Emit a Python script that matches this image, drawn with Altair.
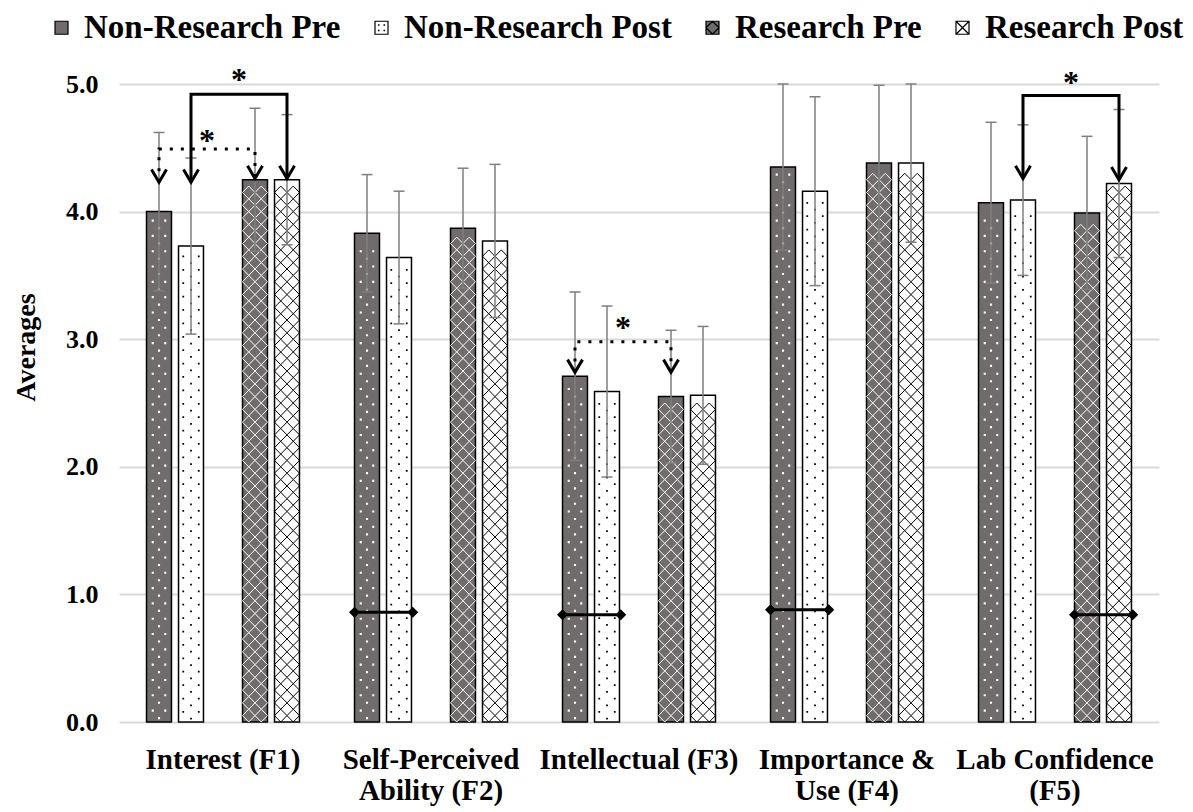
import json
import altair as alt
import pandas as pd

# ---------------- data ----------------
categories = ["Interest (F1)", "Self-Perceived Ability (F2)", "Intellectual (F3)",
              "Importance & Use (F4)", "Lab Confidence (F5)"]
label_lines = [["Interest (F1)"], ["Self-Perceived", "Ability (F2)"], ["Intellectual (F3)"],
               ["Importance &", "Use (F4)"], ["Lab Confidence", "(F5)"]]
series = ["Non-Research Pre", "Non-Research Post", "Research Pre", "Research Post"]

nr_pre = [4.00, 3.83, 2.71, 4.35, 4.07]
nr_post = [3.73, 3.64, 2.59, 4.16, 4.09]
r_pre = [4.25, 3.87, 2.55, 4.38, 3.99]
r_post = [4.25, 3.77, 2.56, 4.38, 4.22]

nr_pre_sd = [0.62, 0.46, 0.66, 0.65, 0.63]
nr_post_sd = [0.69, 0.52, 0.67, 0.74, 0.59]
r_pre_sd = [0.56, 0.47, 0.52, 0.61, 0.60]
r_post_sd = [0.51, 0.60, 0.54, 0.62, 0.58]

# significance brackets
sig_category = ["Interest (F1)", "Interest (F1)", "Intellectual (F3)", "Lab Confidence (F5)"]
sig_from = ["Non-Research Pre", "Non-Research Post", "Non-Research Pre", "Non-Research Post"]
sig_to = ["Research Pre", "Research Post", "Research Pre", "Research Post"]
sig_level = [4.49, 4.92, 2.98, 4.91]
sig_tip_from = [4.23, 4.23, 2.74, 4.26]
sig_tip_to = [4.26, 4.26, 2.74, 4.25]
sig_star = [4.59, 5.07, 3.13, 5.05]
sig_dotted = [True, False, True, False]

# no-difference markers
nd_category = ["Self-Perceived Ability (F2)", "Intellectual (F3)", "Importance & Use (F4)", "Lab Confidence (F5)"]
nd_from = ["Non-Research Pre", "Non-Research Pre", "Non-Research Pre", "Research Pre"]
nd_to = ["Non-Research Post", "Non-Research Post", "Non-Research Post", "Research Post"]
nd_level = [0.86, 0.84, 0.88, 0.84]

# ---------------- tables ----------------
rows = []
for s, vals, sds in zip(series, [nr_pre, nr_post, r_pre, r_post],
                        [nr_pre_sd, nr_post_sd, r_pre_sd, r_post_sd]):
    for c, v, d in zip(categories, vals, sds):
        rows.append(dict(category=c, series=s, value=v, lo=round(v - d, 3), hi=round(v + d, 3)))
bars_df = pd.DataFrame(rows)

brk_rows, tip_rows, star_rows = [], [], []
for i, (c, a, b, lvl, ta, tb, st, dot) in enumerate(zip(sig_category, sig_from, sig_to, sig_level,
                                                        sig_tip_from, sig_tip_to, sig_star, sig_dotted)):
    brk_rows += [dict(bid=i, category=c, series=a, y=ta, k=0, dotted=dot),
                 dict(bid=i, category=c, series=a, y=lvl, k=1, dotted=dot),
                 dict(bid=i, category=c, series=b, y=lvl, k=2, dotted=dot),
                 dict(bid=i, category=c, series=b, y=tb, k=3, dotted=dot)]
    tip_rows += [dict(category=c, series=a, y=ta), dict(category=c, series=b, y=tb)]
    star_rows.append(dict(category=c, series=a, y=st))
brk_df = pd.DataFrame(brk_rows)
tip_df = pd.DataFrame(tip_rows)
star_df = pd.DataFrame(star_rows)

nd_rows = []
for i, (c, a, b, lvl) in enumerate(zip(nd_category, nd_from, nd_to, nd_level)):
    nd_rows += [dict(nid=i, category=c, series=a, y=lvl, k=0, end="left"),
                dict(nid=i, category=c, series=b, y=lvl, k=1, end="right")]
nd_df = pd.DataFrame(nd_rows)

# ---------------- styling ----------------
FONT = "Liberation Serif"
slots = [series[0], series[1], "_gap", series[2], series[3]]
fill_colors = ["#706c6c", "#ffffff", "#706c6c", "#ffffff"]
outline_colors = ["#000000", "#000000", "#000000", "#000000"]


def sq(x, y, d):
    return f"M{x - d / 2:.3f},{y - d / 2:.3f}h{d}v{d}h{-d}Z"


dots_a = " ".join([sq(-0.5, -0.3, 0.17), sq(0.5, -0.3, 0.17), sq(0.0, 0.3, 0.17)])
dots_b = " ".join([sq(-0.62, -0.27, 0.14), sq(0.62, -0.27, 0.14), sq(0.0, 0.27, 0.14)])
lattice = "M-1,0L-0.5,-0.51L0,0L-0.5,0.51Z M0,0L0.5,-0.51L1,0L0.5,0.51Z"
# (tile shape, tile fill, tile stroke, tile step in data units) per series
textures = [
    (dots_a, "#ffffff", "transparent", 0.12),
    (dots_b, "#000000", "transparent", 0.105),
    (lattice, "transparent", "#ffffff", 0.1),
    (lattice, "transparent", "#000000", 0.1),
]

legend_shapes = [
    "M-1,-1H1V1H-1Z",
    "M-1,-1H1V1H-1Z M-0.45,-0.45h0.06v0.06h-0.06Z M0.4,-0.45h0.06v0.06h-0.06Z "
    "M-0.45,0.4h0.06v0.06h-0.06Z M0.4,0.4h0.06v0.06h-0.06Z",
    "M-1,-1H1V1H-1Z M-1,0L0,-1L1,0L0,1Z",
    "M-1,-1H1V1H-1Z M-1,-1L1,1 M1,-1L-1,1",
]

label_expr = f"{json.dumps(label_lines)}[indexof({json.dumps(categories)}, datum.value)]"

x_axis = alt.Axis(title=None, labelExpr=label_expr, labelAngle=0, labelFont=FONT, labelFontSize=29,
                  labelFontWeight="bold", labelColor="black", labelPadding=23, labelLineHeight=31,
                  labelLimit=500, labelOverlap=False, ticks=False, domain=False, labelBaseline="top",
                  grid=False)
y_axis = alt.Axis(title="Averages", values=[0, 1, 2, 3, 4, 5], format=".1f", grid=True,
                  gridColor="#d9d9d9", gridWidth=2, domain=False, ticks=False,
                  labelFont=FONT, labelFontSize=26, labelFontWeight="bold", labelColor="black",
                  labelPadding=21, titleFont=FONT, titleFontSize=28, titleFontWeight="bold",
                  titleColor="black", titleAngle=270, titleX=-85, titleY=263,
                  titleAlign="center", titleBaseline="alphabetic")


def X():
    return alt.X("category:N", sort=categories,
                 scale=alt.Scale(domain=categories, paddingInner=0.2308, paddingOuter=0.1154),
                 axis=x_axis)


def XO():
    return alt.XOffset("series:N", scale=alt.Scale(domain=slots, paddingInner=0.22, paddingOuter=0.11))


yscale = alt.Scale(domain=[0, 5], nice=False)


def Y(field):
    return alt.Y(f"{field}:Q", scale=yscale, axis=y_axis)


legend = alt.Legend(title=None, orient="none", direction="horizontal", legendX=-74, legendY=-73,
                    labelFont=FONT, labelFontSize=33, labelFontWeight="bold", labelColor="black",
                    symbolSize=169, symbolStrokeColor="black", symbolStrokeWidth=1.2,
                    symbolOpacity=1, labelOffset=6, columnPadding=24, padding=0, labelLimit=600)

bars = alt.Chart(bars_df).mark_bar(strokeWidth=1.5).encode(
    x=X(), xOffset=XO(), y=Y("value"),
    color=alt.Color("series:N", scale=alt.Scale(domain=series, range=fill_colors), legend=legend),
    stroke=alt.Stroke("series:N", scale=alt.Scale(domain=series, range=outline_colors), legend=legend),
)

texture_layers = []
for s, (shape, tfill, tstroke, step) in zip(series, textures):
    texture_layers.append(
        alt.Chart(bars_df).transform_filter(alt.datum.series == s).transform_calculate(
            ys=f"sequence({step / 2}, datum.value - {step / 2} + 0.001, {step})"
        ).transform_flatten(["ys"]).mark_point(
            shape=shape, size=625, fill=tfill, stroke=tstroke, strokeWidth=1, opacity=1, filled=True
        ).encode(x=X(), xOffset=XO(), y=Y("ys"))
    )

err = alt.Chart(bars_df).mark_rule(color="#7f7f7f", strokeWidth=1.5).encode(
    x=X(), xOffset=XO(), y=Y("lo"), y2=alt.Y2("hi:Q"))
caps = alt.Chart(bars_df).transform_fold(["lo", "hi"], as_=["which", "cap"]).mark_point(
    shape="M-1,0L1,0", size=121, color="#7f7f7f", strokeWidth=1.5, opacity=1, filled=False
).encode(x=X(), xOffset=XO(), y=Y("cap"))

solid = alt.Chart(brk_df).transform_filter("!datum.dotted").mark_line(
    color="black", strokeWidth=3, strokeJoin="miter").encode(
    x=X(), xOffset=XO(), y=Y("y"), detail="bid:N", order=alt.Order("k:Q"))
dotted = alt.Chart(brk_df).transform_filter("datum.dotted").mark_line(
    color="black", strokeWidth=3, strokeDash=[3, 8], strokeCap="butt").encode(
    x=X(), xOffset=XO(), y=Y("y"), detail="bid:N", order=alt.Order("k:Q"))
tips = alt.Chart(tip_df).mark_point(
    shape="M-1,-1.7L0,0L1,-1.7", size=225, color="black", strokeWidth=3, opacity=1, filled=False
).encode(x=X(), xOffset=XO(), y=Y("y"))
stars = alt.Chart(star_df).mark_text(
    text="*", font=FONT, fontSize=32, fontWeight="bold", color="black", dx=48, dy=5, baseline="middle"
).encode(x=X(), xOffset=XO(), y=Y("y"))

nd_line = alt.Chart(nd_df).mark_line(color="black", strokeWidth=3).encode(
    x=X(), xOffset=XO(), y=Y("y"), detail="nid:N", order=alt.Order("k:Q"))
nd_left = alt.Chart(nd_df).transform_filter("datum.end === 'left'").mark_point(
    shape="M-1.44,0L-1,-0.44L-0.56,0L-1,0.44Z M-1,-0.12H0V0.12H-1Z",
    size=625, color="black", filled=True, opacity=1, strokeWidth=0
).encode(x=X(), xOffset=XO(), y=Y("y"))
nd_right = alt.Chart(nd_df).transform_filter("datum.end === 'right'").mark_point(
    shape="M0.66,0L1.1,-0.44L1.54,0L1.1,0.44Z M0,-0.12H1.1V0.12H0Z",
    size=625, color="black", filled=True, opacity=1, strokeWidth=0
).encode(x=X(), xOffset=XO(), y=Y("y"))

# zero-size points (invisible) that give the legend its swatch shapes
legend_layer = alt.Chart(bars_df).mark_point(
    filled=True, stroke="black", strokeWidth=1, opacity=1, size=0
).encode(
    x=X(), xOffset=XO(), y=Y("value"),
    shape=alt.Shape("series:N", scale=alt.Scale(domain=series, range=legend_shapes), legend=legend),
)

chart = alt.layer(bars, *texture_layers, err, caps, dotted, solid, tips, stars,
                  nd_line, nd_left, nd_right, legend_layer).properties(
    width=1040, height=638,
    background="white",
    autosize=alt.AutoSizeParams(type="none"),
    padding={"left": 111, "top": 76, "right": 26, "bottom": 86},
).configure_view(stroke=None)

chart.save("out.html", embed_options={"renderer": "svg", "actions": False})
